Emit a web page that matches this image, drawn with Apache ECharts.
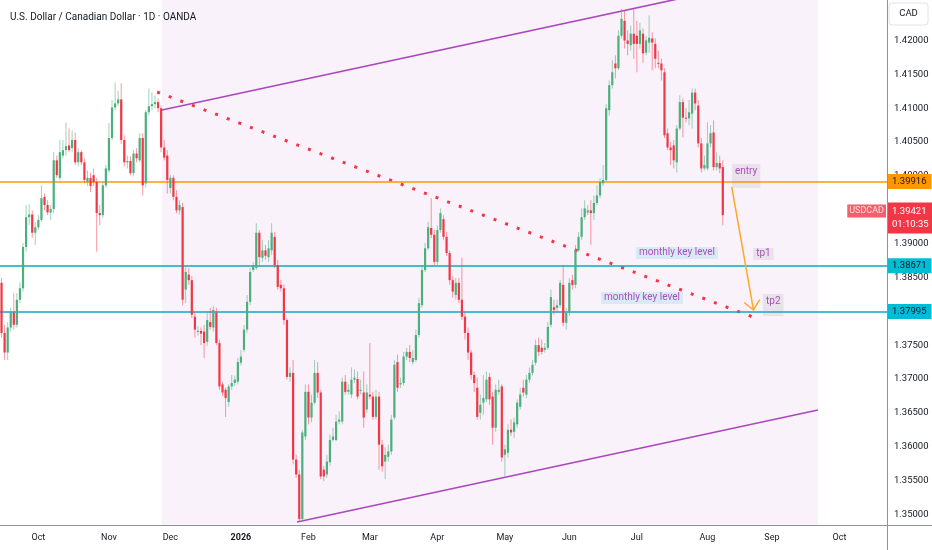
<!DOCTYPE html>
<html><head><meta charset="utf-8">
<script src="https://cdn.jsdelivr.net/npm/echarts@6/dist/echarts.min.js"></script>
<style>html,body{margin:0;padding:0;background:#fff}#c{width:932px;height:550px}</style>
</head><body><div id="c"></div>
<script>
const TITLE = 'U.S. Dollar / Canadian Dollar · 1D · OANDA';
const FIRST_DAY = '2025-09-15';
const SLOT_COUNT = 289;
const monthLabels = ['Oct','Nov','Dec','2026','Feb','Mar','Apr','May','Jun','Jul','Aug','Sep','Oct'];
const priceTicks = [1.35,1.355,1.36,1.365,1.37,1.375,1.38,1.385,1.39,1.395,1.40,1.405,1.41,1.415,1.42];
const PRICE_MIN = 1.34843, PRICE_MAX = 1.42598;

const opens = [
1.3842,1.3768,1.3739,1.3776,1.3798,1.3780,1.3817,1.3834,1.3895,1.3939,
1.3943,1.3916,1.3924,1.3935,1.3969,1.3957,1.3946,1.3951,1.4023,1.3997,
1.4030,1.4038,1.4045,1.4041,1.4053,1.4020,1.4035,1.4020,1.3991,1.3997,
1.4001,1.3991,1.3945,1.3942,1.3986,1.4008,1.4056,1.4101,1.4107,1.4113,
1.4053,1.4020,1.4022,1.4004,1.4033,1.4023,1.4056,1.3989,1.4094,1.4103,
1.4106,1.4109,1.4100,1.4042,1.4030,1.3982,1.3997,1.3969,1.3949,1.3954,
1.3832,1.3854,1.3846,1.3792,1.3770,1.3771,1.3770,1.3755,1.3784,1.3776,
1.3798,1.3753,1.3692,1.3684,1.3666,1.3689,1.3694,1.3696,1.3724,1.3743,
1.3773,1.3814,1.3861,1.3864,1.3916,1.3879,1.3890,1.3880,1.3890,1.3910,
1.3868,1.3839,1.3834,1.3787,1.3703,1.3709,1.3581,1.3559,1.3493,1.3615,
1.3681,1.3643,1.3665,1.3709,1.3680,1.3566,1.3559,1.3577,1.3610,1.3610,
1.3637,1.3637,1.3696,1.3681,1.3677,1.3699,1.3700,1.3683,1.3680,1.3655,
1.3677,1.3674,1.3644,1.3674,1.3603,1.3578,1.3585,1.3593,1.3643,1.3725,
1.3692,1.3694,1.3733,1.3740,1.3725,1.3728,1.3765,1.3809,1.3861,1.3893,
1.3923,1.3913,1.3873,1.3920,1.3936,1.3910,1.3886,1.3846,1.3824,1.3842,
1.3817,1.3792,1.3768,1.3739,1.3706,1.3687,1.3650,1.3665,1.3670,1.3703,
1.3674,1.3628,1.3681,1.3689,1.3588,1.3591,1.3625,1.3622,1.3633,1.3659,
1.3687,1.3677,1.3699,1.3709,1.3724,1.3750,1.3746,1.3743,1.3746,1.3780,
1.3806,1.3805,1.3809,1.3839,1.3783,1.3798,1.3846,1.3839,1.3890,1.3910,
1.3939,1.3946,1.3949,1.3945,1.3960,1.3971,1.3989,1.3994,1.4097,1.4134,
1.4166,1.4159,1.4207,1.4229,1.4200,1.4193,1.4210,1.4207,1.4195,1.4210,
1.4182,1.4197,1.4203,1.4195,1.4167,1.4166,1.4153,1.4063,1.4042,1.4045,
1.4020,1.4070,1.4109,1.4086,1.4085,1.4092,1.4123,1.4104,1.4048,1.4011,
1.4011,1.4048,1.4064,1.4013,1.4019,1.4013];

const closes = [
1.3768,1.3739,1.3776,1.3798,1.3780,1.3817,1.3834,1.3895,1.3939,1.3943,
1.3916,1.3924,1.3935,1.3967,1.3957,1.3946,1.3951,1.4023,1.4001,1.4035,
1.4038,1.4044,1.4038,1.4053,1.4020,1.4035,1.4020,1.3994,1.3997,1.3985,
1.3991,1.3945,1.3942,1.3986,1.4011,1.4056,1.4101,1.4107,1.4113,1.4053,
1.4020,1.4022,1.4004,1.4033,1.4026,1.4056,1.3986,1.4094,1.4103,1.4106,
1.4109,1.4100,1.4042,1.4027,1.3994,1.3997,1.3969,1.3949,1.3957,1.3817,
1.3858,1.3846,1.3795,1.3773,1.3771,1.3767,1.3753,1.3787,1.3777,1.3802,
1.3753,1.3689,1.3680,1.3672,1.3689,1.3694,1.3699,1.3725,1.3733,1.3773,
1.3814,1.3858,1.3868,1.3916,1.3880,1.3890,1.3882,1.3893,1.3916,1.3868,
1.3836,1.3834,1.3787,1.3703,1.3709,1.3581,1.3559,1.3493,1.3621,1.3681,
1.3643,1.3665,1.3709,1.3680,1.3556,1.3556,1.3578,1.3610,1.3615,1.3637,
1.3640,1.3696,1.3681,1.3684,1.3699,1.3702,1.3674,1.3684,1.3643,1.3680,
1.3674,1.3644,1.3674,1.3603,1.3571,1.3588,1.3593,1.3640,1.3721,1.3687,
1.3694,1.3733,1.3740,1.3731,1.3731,1.3765,1.3812,1.3861,1.3893,1.3924,
1.3913,1.3873,1.3920,1.3945,1.3910,1.3886,1.3846,1.3829,1.3842,1.3817,
1.3792,1.3768,1.3739,1.3706,1.3694,1.3644,1.3662,1.3672,1.3699,1.3670,
1.3628,1.3684,1.3684,1.3584,1.3596,1.3625,1.3621,1.3636,1.3665,1.3677,
1.3680,1.3699,1.3709,1.3721,1.3750,1.3740,1.3740,1.3746,1.3777,1.3821,
1.3802,1.3809,1.3842,1.3783,1.3798,1.3842,1.3839,1.3890,1.3910,1.3939,
1.3952,1.3949,1.3945,1.3960,1.3971,1.3991,1.3994,1.4100,1.4134,1.4153,
1.4159,1.4207,1.4232,1.4200,1.4195,1.4210,1.4195,1.4195,1.4215,1.4181,
1.4200,1.4204,1.4197,1.4173,1.4166,1.4156,1.4060,1.4042,1.4038,1.4023,
1.4070,1.4109,1.4086,1.4085,1.4094,1.4123,1.4107,1.4048,1.4011,1.4016,
1.4048,1.4063,1.4013,1.4019,1.4011,1.3942];

const highs = [
1.3849,1.3780,1.3784,1.3805,1.3827,1.3827,1.3843,1.3901,1.3957,1.3958,
1.3949,1.3932,1.3942,1.3986,1.3974,1.3964,1.3957,1.4035,1.4030,1.4053,
1.4053,1.4079,1.4070,1.4067,1.4064,1.4041,1.4038,1.4026,1.4008,1.4005,
1.4011,1.3997,1.3957,1.3991,1.4016,1.4078,1.4112,1.4138,1.4126,1.4137,
1.4060,1.4030,1.4029,1.4038,1.4041,1.4063,1.4063,1.4097,1.4129,1.4123,
1.4119,1.4114,1.4104,1.4053,1.4038,1.4001,1.4001,1.3979,1.3964,1.3960,
1.3868,1.3864,1.3852,1.3799,1.3778,1.3776,1.3780,1.3799,1.3805,1.3808,
1.3805,1.3758,1.3696,1.3687,1.3692,1.3706,1.3705,1.3731,1.3743,1.3780,
1.3824,1.3864,1.3873,1.3930,1.3920,1.3905,1.3898,1.3905,1.3930,1.3917,
1.3876,1.3846,1.3840,1.3790,1.3717,1.3728,1.3588,1.3566,1.3625,1.3692,
1.3692,1.3677,1.3728,1.3725,1.3684,1.3571,1.3588,1.3618,1.3628,1.3647,
1.3652,1.3702,1.3706,1.3692,1.3717,1.3714,1.3711,1.3699,1.3711,1.3692,
1.3753,1.3681,1.3684,1.3681,1.3610,1.3599,1.3603,1.3647,1.3728,1.3736,
1.3702,1.3740,1.3746,1.3750,1.3743,1.3773,1.3820,1.3868,1.3901,1.3932,
1.3967,1.3920,1.3927,1.3952,1.3942,1.3917,1.3890,1.3852,1.3849,1.3849,
1.3879,1.3799,1.3776,1.3743,1.3711,1.3702,1.3677,1.3706,1.3711,1.3709,
1.3681,1.3692,1.3699,1.3692,1.3603,1.3633,1.3640,1.3643,1.3670,1.3687,
1.3699,1.3706,1.3717,1.3728,1.3758,1.3761,1.3758,1.3753,1.3784,1.3832,
1.3817,1.3817,1.3846,1.3868,1.3805,1.3849,1.3854,1.3898,1.3917,1.3952,
1.3964,1.3957,1.3964,1.3971,1.3986,1.3997,1.4016,1.4106,1.4141,1.4171,
1.4178,1.4215,1.4247,1.4244,1.4215,1.4222,1.4247,1.4229,1.4226,1.4218,
1.4207,1.4237,1.4212,1.4203,1.4185,1.4173,1.4159,1.4070,1.4050,1.4053,
1.4075,1.4119,1.4114,1.4100,1.4112,1.4129,1.4129,1.4112,1.4056,1.4030,
1.4079,1.4075,1.4082,1.4035,1.4030,1.4023];

const lows = [
1.3761,1.3728,1.3728,1.3770,1.3773,1.3776,1.3812,1.3829,1.3888,1.3927,
1.3908,1.3898,1.3920,1.3932,1.3949,1.3942,1.3935,1.3945,1.3997,1.3994,
1.4026,1.4030,1.4035,1.4035,1.4016,1.4014,1.4016,1.3989,1.3985,1.3976,
1.3985,1.3888,1.3927,1.3938,1.3982,1.4005,1.4053,1.4097,1.4103,1.4047,
1.4014,1.4011,1.4001,1.3999,1.4020,1.4020,1.3971,1.3983,1.4089,1.4097,
1.4100,1.4094,1.4035,1.4023,1.3974,1.3974,1.3964,1.3945,1.3943,1.3809,
1.3812,1.3839,1.3790,1.3761,1.3764,1.3750,1.3731,1.3749,1.3773,1.3770,
1.3750,1.3684,1.3675,1.3644,1.3659,1.3684,1.3690,1.3692,1.3720,1.3740,
1.3768,1.3809,1.3858,1.3861,1.3868,1.3873,1.3876,1.3873,1.3883,1.3864,
1.3832,1.3829,1.3780,1.3699,1.3696,1.3574,1.3554,1.3490,1.3490,1.3610,
1.3633,1.3636,1.3662,1.3672,1.3552,1.3549,1.3554,1.3572,1.3608,1.3608,
1.3633,1.3633,1.3677,1.3677,1.3672,1.3694,1.3670,1.3677,1.3628,1.3650,
1.3670,1.3640,1.3640,1.3566,1.3563,1.3552,1.3578,1.3588,1.3640,1.3681,
1.3687,1.3690,1.3728,1.3725,1.3721,1.3725,1.3761,1.3805,1.3858,1.3890,
1.3908,1.3868,1.3868,1.3916,1.3905,1.3882,1.3839,1.3820,1.3817,1.3812,
1.3787,1.3758,1.3728,1.3699,1.3681,1.3640,1.3640,1.3647,1.3666,1.3662,
1.3603,1.3622,1.3677,1.3578,1.3556,1.3584,1.3616,1.3613,1.3628,1.3655,
1.3674,1.3672,1.3694,1.3705,1.3720,1.3734,1.3736,1.3739,1.3743,1.3776,
1.3795,1.3799,1.3805,1.3778,1.3773,1.3793,1.3832,1.3834,1.3888,1.3905,
1.3935,1.3942,1.3898,1.3935,1.3957,1.3967,1.3985,1.3991,1.4089,1.4129,
1.4144,1.4156,1.4203,1.4188,1.4178,1.4185,1.4173,1.4153,1.4188,1.4167,
1.4178,1.4182,1.4156,1.4159,1.4159,1.4141,1.4056,1.4038,1.4016,1.4011,
1.4005,1.4067,1.4057,1.4079,1.4075,1.4070,1.4097,1.4042,1.4005,1.4008,
1.4008,1.4042,1.4008,1.4008,1.4004,1.3927];

const levelPrices = [1.39916, 1.38671, 1.37995];
const lastPrice = 1.39421;
const countdown = '01:10:35';
const symbolName = 'USDCAD';
const currencyName = 'CAD';
// drawings, in [bar index, price]
const upperChannel = [[52.3, 1.40973], [230, 1.42707]];
const lowerChannel = [[96.3, 1.34888], [266.0, 1.36542]];
const dottedTrend = [[50.7, 1.41239], [246.5, 1.37886]];
const channelZone = [52.3, 266.0];
const projection = [[237.9, 1.39836, 245.0, 1.38019]];
const plainNotes = [['entry', 238.0, 1.40176, [3,3,11,3]], ['tp1', 244.9, 1.38935, [1,3,1,3]], ['tp2', 248.1, 1.38256, [3,3,9,3]]];
const keyNotes = [['monthly key level', 206.7, 1.38950], ['monthly key level', 195.3, 1.38285]];

// weekday categories
const dates = [];
(function(){
  const d = new Date(FIRST_DAY + 'T00:00:00Z');
  while (dates.length < SLOT_COUNT) {
    const wd = d.getUTCDay();
    if (wd !== 0 && wd !== 6) dates.push(d.toISOString().slice(0,10));
    d.setUTCDate(d.getUTCDate() + 1);
  }
})();
const monthTickLabel = {};
(function(){
  let k = 0;
  for (let i = 1; i < dates.length; i++) {
    if (dates[i].slice(5,7) !== dates[i-1].slice(5,7) && k < monthLabels.length) {
      monthTickLabel[i] = monthLabels[k++];
    }
  }
})();

const FONT = 'Roboto, "Noto Sans", sans-serif';
const UP = '#4caf7d', DOWN = '#f23645';
const UP_WICK = 'rgba(76,175,125,0.55)', DOWN_WICK = 'rgba(242,54,69,0.5)';

const candleData = opens.map((o, i) => [i, o, closes[i], lows[i], highs[i]]);

function renderCandle(params, api) {
  const i = api.value(0);
  const o = api.value(1), c = api.value(2), l = api.value(3), h = api.value(4);
  const pO = api.coord([i, o]), pC = api.coord([i, c]);
  const pL = api.coord([i, l]), pH = api.coord([i, h]);
  const bw = api.size([1, 0])[0] * 0.72;
  const up = c >= o;
  const x = pO[0];
  const top = Math.min(pO[1], pC[1]), bot = Math.max(pO[1], pC[1]);
  return {
    type: 'group',
    children: [
      {type: 'line', shape: {x1: x, y1: pH[1], x2: x, y2: pL[1]}, style: {stroke: up ? UP_WICK : DOWN_WICK, lineWidth: 1}},
      {type: 'rect', shape: {x: x - bw / 2, y: top, width: bw, height: Math.max(bot - top, 1)}, style: {fill: up ? UP : DOWN}}
    ]
  };
}

function renderArrow(params, api) {
  const a = api.coord([api.value(0), api.value(1)]);
  const b = api.coord([api.value(2), api.value(3)]);
  const ang = Math.atan2(b[1] - a[1], b[0] - a[0]);
  const L = 12, s = 0.72;
  const h1 = [b[0] - L * Math.cos(ang - s), b[1] - L * Math.sin(ang - s)];
  const h2 = [b[0] - L * Math.cos(ang + s), b[1] - L * Math.sin(ang + s)];
  const st = {stroke: '#ffa726', lineWidth: 1.5, fill: null};
  return {type: 'group', children: [
    {type: 'line', shape: {x1: a[0], y1: a[1], x2: b[0], y2: b[1]}, style: st},
    {type: 'polyline', shape: {points: [h1, b, h2]}, style: st}
  ]};
}

const tagLabel = (text, bg, fg) => ({
  show: true, position: 'end', distance: 0, formatter: text,
  backgroundColor: bg, color: fg, fontSize: 9.5, fontFamily: FONT,
  padding: [3, 5, 2, 5]
});

const chart = echarts.init(document.getElementById('c'));
chart.setOption({
  animation: false,
  backgroundColor: '#ffffff',
  title: {text: TITLE, left: 5, top: 7, textStyle: {fontSize: 10, fontWeight: 'normal', color: '#131722', fontFamily: FONT}},
  grid: {left: 0, right: 45, top: 0, bottom: 25, containLabel: false},
  xAxis: [
    {type: 'category', data: dates, boundaryGap: true,
     axisLine: {show: false}, axisTick: {show: false}, splitLine: {show: false},
     axisLabel: {
       interval: (idx) => monthTickLabel[idx] !== undefined,
       formatter: (v, idx) => { const t = monthTickLabel[idx] || ''; return /^\d{4}$/.test(t) ? '{b|' + t + '}' : t; },
       color: '#131722', fontSize: 9, fontFamily: FONT, margin: 8, hideOverlap: false,
       rich: {b: {fontWeight: 'bold', fontSize: 9, color: '#131722', fontFamily: FONT}}
     }},
    {type: 'value', min: -0.5, max: SLOT_COUNT - 0.5, show: false}
  ],
  yAxis: {
    type: 'value', position: 'right', min: PRICE_MIN, max: PRICE_MAX, scale: true,
    axisLine: {show: false}, axisTick: {show: false}, splitLine: {show: false},
    axisLabel: {customValues: priceTicks, formatter: (v) => v.toFixed(5), color: '#131722', fontSize: 9.5, fontFamily: FONT, margin: 7}
  },
  graphic: [
    {type: 'line', shape: {x1: 887.5, y1: 0, x2: 887.5, y2: 550}, style: {stroke: '#8f929b', lineWidth: 1}, z: 50},
    {type: 'line', shape: {x1: 0, y1: 525.5, x2: 932, y2: 525.5}, style: {stroke: '#8f929b', lineWidth: 1}, z: 50},
    {type: 'rect', shape: {x: 889, y: 3, width: 39, height: 22, r: 3}, style: {fill: '#ffffff', stroke: '#e0e3eb'}, z: 50},
    {type: 'text', x: 908.5, y: 14, style: {text: currencyName, fontSize: 9.5, fontFamily: FONT, fill: '#131722', align: 'center', verticalAlign: 'middle'}, z: 51}
  ],
  series: [
    {type: 'line', xAxisIndex: 1, yAxisIndex: 0, data: [], z: 1, silent: true,
     markArea: {silent: true, itemStyle: {color: 'rgba(156,39,176,0.06)'}, data: [[{xAxis: channelZone[0]}, {xAxis: channelZone[1]}]]}},
    {type: 'line', xAxisIndex: 1, data: upperChannel, symbol: 'none', lineStyle: {color: '#ab47bc', width: 1.6}, z: 3, silent: true},
    {type: 'line', xAxisIndex: 1, data: lowerChannel, symbol: 'none', lineStyle: {color: '#ab47bc', width: 1.6}, z: 3, silent: true,
     markLine: {silent: true, symbol: ['none', 'none'], animation: false, precision: 5,
       data: [
         {yAxis: levelPrices[0], lineStyle: {color: '#ff9800', width: 1.6, type: 'solid'}, label: tagLabel(levelPrices[0].toFixed(5), '#ff9800', '#131722')},
         {yAxis: levelPrices[1], lineStyle: {color: '#0fa6c4', width: 1.5, type: 'solid'}, label: tagLabel(levelPrices[1].toFixed(5), '#00bcd4', '#131722')},
         {yAxis: levelPrices[2], lineStyle: {color: '#0fa6c4', width: 1.5, type: 'solid'}, label: tagLabel(levelPrices[2].toFixed(5), '#00bcd4', '#131722')},
         {yAxis: lastPrice, lineStyle: {color: 'rgba(0,0,0,0)', width: 0.01, type: 'solid'}, label: Object.assign(tagLabel(lastPrice.toFixed(5) + '\n' + countdown, '#f23645', '#ffffff'), {lineHeight: 13, padding: [2, 5, 3, 5], offset: [0, 3]})}
       ]}},
    {type: 'line', xAxisIndex: 1, data: dottedTrend, symbol: 'none', lineStyle: {color: '#f23645', width: 3, type: [3, 9.4], cap: 'butt'}, z: 4, silent: true},
    {type: 'custom', xAxisIndex: 0, yAxisIndex: 0, data: candleData, encode: {x: 0, y: [1, 2, 3, 4]}, renderItem: renderCandle, z: 5, clip: true, silent: true},
    {type: 'custom', xAxisIndex: 1, data: projection, encode: {x: [0, 2], y: [1, 3]}, renderItem: renderArrow, z: 6, silent: true},
    {type: 'scatter', xAxisIndex: 1, symbolSize: 0, z: 7, silent: true, clip: false,
     data: plainNotes.map(n => ({value: [n[1], n[2]], label: {formatter: n[0], padding: n[3]}})),
     label: {show: true, position: [0, 0], align: 'left', verticalAlign: 'top', color: '#9c27b0', fontSize: 10, fontFamily: FONT, backgroundColor: 'rgba(140,140,150,0.2)'}},
    {type: 'scatter', xAxisIndex: 1, symbolSize: 0, z: 7, silent: true, clip: false,
     data: keyNotes.map(n => ({value: [n[1], n[2]], label: {formatter: n[0]}})),
     label: {show: true, position: [0, 0], align: 'left', verticalAlign: 'top', color: '#9c27b0', fontSize: 10, fontFamily: FONT, backgroundColor: 'rgba(0,188,212,0.16)', padding: [1, 3, 1, 3]}},
    {type: 'scatter', xAxisIndex: 1, symbolSize: 0, z: 8, silent: true, clip: false,
     data: [[SLOT_COUNT - 0.5, lastPrice]],
     label: {show: true, position: 'left', distance: 1, offset: [0, -4], formatter: symbolName, backgroundColor: '#f23645', color: '#ffffff', fontSize: 9, fontFamily: FONT, padding: [2, 2, 2, 2]}}
  ]
});
</script>
</body></html>
